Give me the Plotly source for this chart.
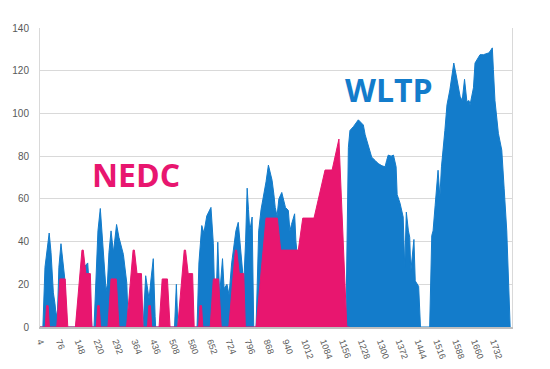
import plotly.graph_objects as go

# ---- WLTP speed profile (time s, speed) ----
wltp_t = [0, 11, 19, 35, 42, 51, 57, 62, 67, 72, 80, 88, 95, 101,
          130, 137, 153, 168, 182, 187, 198,
          206, 214, 221, 230, 236, 245, 252, 257, 263, 271, 280, 292, 301, 318, 331, 337,
          393, 403, 410, 416, 423, 432, 439, 441,
          513, 520, 526,
          599, 606, 617, 625, 636, 652, 661, 665, 671, 678, 685, 696, 702, 713, 721, 731,
          740, 747, 756, 763, 770, 777, 784, 790, 795, 800, 809, 815,
          824, 834, 843, 854, 862, 871, 877, 885, 892, 897, 904, 911, 922, 929, 936, 947,
          953, 959, 966, 971, 976, 984, 1011, 1049, 1087, 1125, 1144, 1156, 1167,
          1176, 1182, 1195, 1214, 1227, 1233, 1240, 1252, 1265, 1278, 1290, 1304, 1316,
          1322, 1328, 1339, 1348, 1358, 1362, 1373, 1385, 1391, 1397, 1405, 1410, 1414,
          1426, 1431, 1444, 1451,
          1486, 1494, 1499, 1507, 1518, 1525, 1531, 1544, 1552, 1563, 1571, 1578, 1587,
          1594, 1602, 1610, 1619, 1628, 1636, 1640, 1653, 1659, 1672, 1678, 1691, 1701,
          1710, 1716, 1725, 1729, 1735, 1748, 1761, 1770, 1780, 1793]
wltp_v = [0, 0, 28, 44, 35, 16, 11, 5, 8, 28, 39, 30, 22, 0,
          0, 0, 20, 28, 30, 20, 0,
          0, 26, 45, 55.5, 45, 29.6, 17, 20, 35, 45, 35, 48, 42, 34, 20.5, 0,
          0, 24, 18, 13, 22, 32, 5, 0,
          0, 20, 0,
          0, 30, 47.5, 44, 52, 56, 39, 20, 10, 39.7, 15, 32, 18, 20, 15, 30,
          40, 45, 49, 38, 30, 20, 40, 65, 55, 45, 51.5, 0,
          0, 45, 55, 62, 68, 75.8, 72, 68.7, 62, 56, 52, 60, 63, 60, 56, 54.6,
          45, 48, 51.5, 53, 40, 30, 35, 45, 50, 40, 30, 10, 5,
          84, 92, 93.8, 97, 95.4, 94.6, 90, 85, 79.5, 78, 76.5, 75.5, 75,
          78, 80.5, 80, 80.5, 75, 62, 58, 51.5, 28, 53.8, 45, 42, 26,
          41, 21.6, 19, 0,
          0, 42.8, 45, 57, 73.4, 60.8, 75, 92, 104, 111, 118, 123.6, 118,
          112.6, 108, 106, 116, 105.5, 106, 104, 112, 123.6, 126, 127.5, 127.5, 128,
          128.3, 129, 130.7, 120.5, 106, 90.7, 82.8, 65, 45, 0]

# ---- NEDC speed profile (time s, speed) ----
nedc_t = [0,
          20, 25, 31, 36, 64, 76, 96, 106, 135, 160, 165, 175, 192, 198,
          215, 220, 226, 231, 259, 271, 291, 301, 330, 355, 360, 370, 387, 393,
          410, 415, 421, 426, 454, 466, 486, 496, 525, 550, 555, 565, 582, 588,
          605, 610, 616, 621, 649, 661, 681, 691, 720, 745, 750, 760, 777, 783,
          824, 862, 905, 918, 985, 1002, 1045, 1087, 1114, 1140, 1170, 1180]
nedc_v = [0,
          0, 10, 10, 0, 0, 22.5, 22.5, 0, 0, 36, 36, 25, 25, 0,
          0, 10, 10, 0, 0, 22.5, 22.5, 0, 0, 36, 36, 25, 25, 0,
          0, 10, 10, 0, 0, 22.5, 22.5, 0, 0, 36, 36, 25, 25, 0,
          0, 10, 10, 0, 0, 22.5, 22.5, 0, 0, 36, 36, 25, 25, 0,
          0, 51, 51, 36, 36, 51, 51, 73.5, 73.5, 88, 0, 0]

assert len(wltp_t) == len(wltp_v)
assert len(nedc_t) == len(nedc_v)

x_ticks = [4, 76, 148, 220, 292, 364, 436, 508, 580, 652, 724, 796, 868, 940,
           1012, 1084, 1156, 1228, 1300, 1372, 1444, 1516, 1588, 1660, 1732]
x_tick_text = [str(v) for v in x_ticks]
y_ticks = [0, 20, 40, 60, 80, 100, 120, 140]

BLUE = "#137ccb"
PINK = "#e8166f"

fig = go.Figure()
fig.add_trace(go.Scatter(x=wltp_t, y=wltp_v, mode="lines", fill="tozeroy",
                         line=dict(color=BLUE, width=1), fillcolor=BLUE,
                         name="WLTP", showlegend=False))
fig.add_trace(go.Scatter(x=nedc_t, y=nedc_v, mode="lines", fill="tozeroy",
                         line=dict(color=PINK, width=1), fillcolor=PINK,
                         name="NEDC", showlegend=False))

fig.add_annotation(x=366, y=71.5, text="<b>NEDC</b>", showarrow=False,
                   xanchor="center", yanchor="middle",
                   font=dict(family="Open Sans", size=32, color=PINK))
fig.add_annotation(x=1331, y=111, text="<b>WLTP</b>", showarrow=False,
                   xanchor="center", yanchor="middle",
                   font=dict(family="Open Sans", size=32, color=BLUE))

# page body has an 8px margin, so the figure is sized/placed to compensate
fig.update_layout(
    width=542, height=361, autosize=False,
    margin=dict(l=32, r=38, t=20, b=42, autoexpand=False),
    paper_bgcolor="white", plot_bgcolor="white",
    xaxis=dict(range=[0, 1800], tickmode="array", tickvals=x_ticks, ticktext=x_tick_text,
               tickangle=70, showgrid=False, zeroline=False, automargin=False,
               showline=True, linecolor="#bfbfbf", linewidth=2,
               ticks="", tickfont=dict(family="Liberation Sans", size=9, color="#595959"),
               ticklabelstandoff=4),
    yaxis=dict(range=[0, 140], tickmode="array", tickvals=y_ticks, automargin=False,
               showgrid=True, gridcolor="#d9d9d9", gridwidth=1, zeroline=False,
               showline=True, linecolor="#d9d9d9", linewidth=1, mirror=True,
               ticks="", tickfont=dict(family="Liberation Sans", size=10, color="#595959"),
               ticklabelstandoff=8),
)

fig.write_html("out.html")
